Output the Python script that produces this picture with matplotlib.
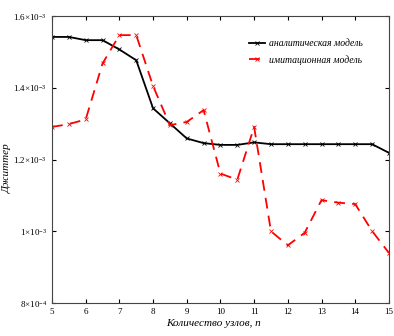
import matplotlib
matplotlib.use("Agg")
import matplotlib.pyplot as plt

# Node counts (x) and jitter values for both models
nodes = [5, 5.5, 6, 6.5, 7, 7.5, 8, 8.5, 9, 9.5, 10, 10.5, 11, 11.5, 12,
         12.5, 13, 13.5, 14, 14.5, 15]
analytic = [1.542e-3, 1.542e-3, 1.533e-3, 1.533e-3, 1.507e-3, 1.477e-3,
            1.343e-3, 1.301e-3, 1.259e-3, 1.246e-3, 1.241e-3, 1.241e-3,
            1.248e-3, 1.243e-3, 1.243e-3, 1.243e-3, 1.243e-3, 1.243e-3,
            1.243e-3, 1.243e-3, 1.219e-3]
simulation = [1.291e-3, 1.299e-3, 1.312e-3, 1.468e-3, 1.547e-3, 1.547e-3,
              1.405e-3, 1.296e-3, 1.305e-3, 1.338e-3, 1.161e-3, 1.144e-3,
              1.291e-3, 1.000e-3, 0.961e-3, 0.996e-3, 1.087e-3, 1.080e-3,
              1.076e-3, 1.001e-3, 0.940e-3]

x_ticks = list(range(5, 16))
y_ticks = [8e-4, 1e-3, 1.2e-3, 1.4e-3, 1.6e-3]
y_tick_labels = [r"$8{\times}10^{-4}$", r"$1{\times}10^{-3}$",
                 r"$1.2{\times}10^{-3}$", r"$1.4{\times}10^{-3}$",
                 r"$1.6{\times}10^{-3}$"]

plt.rcParams["font.family"] = ["Liberation Serif", "DejaVu Serif"]
plt.rcParams["mathtext.fontset"] = "custom"
plt.rcParams["mathtext.rm"] = "Liberation Serif"
plt.rcParams["mathtext.it"] = "Liberation Serif:italic"

fig = plt.figure(figsize=(3.94, 3.36), dpi=100)
ax = fig.add_axes([0.132, 0.098, 0.855, 0.854])

ax.plot(nodes, analytic, color="black", linewidth=1.3, marker="x",
        markersize=3.5, markeredgewidth=0.6, label="аналитическая модель")
ax.plot(nodes, simulation, color="red", linewidth=1.3, linestyle=(0, (6, 4)),
        marker="x", markersize=3.5, markeredgewidth=0.6,
        label="имитационная модель")

ax.set_xlim(5, 15)
ax.set_ylim(8e-4, 1.6e-3)
ax.set_xticks(x_ticks)
ax.set_yticks(y_ticks)
ax.set_yticklabels(y_tick_labels)
ax.tick_params(direction="in", top=True, right=True, length=3,
               labelsize=6.5, width=0.8)
for spine in ax.spines.values():
    spine.set_linewidth(0.8)
    spine.set_color("#444444")

ax.set_xlabel("Количество узлов, n", fontsize=8, style="italic")
ax.set_ylabel("Джиттер", fontsize=8, style="italic")
ax.xaxis.set_label_coords(0.48, -0.055)
ax.yaxis.set_label_coords(-0.12, 0.47)

ax.legend(loc="upper left", bbox_to_anchor=(0.56, 0.95), frameon=False,
          handlelength=1.6, handletextpad=0.4, labelspacing=0.7,
          prop={"style": "italic", "size": 7})

fig.savefig("out.png", dpi=100)
